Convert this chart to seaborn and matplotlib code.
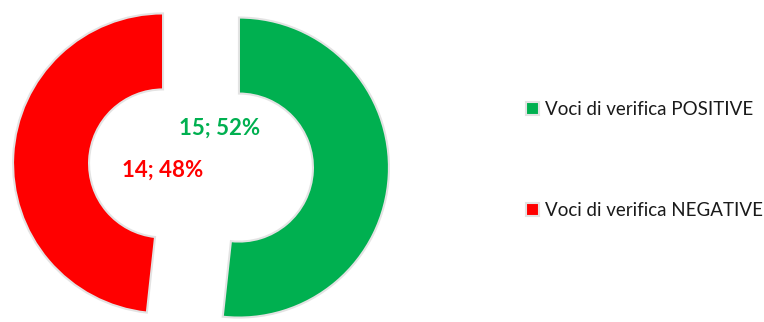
import matplotlib
matplotlib.use("Agg")
import matplotlib.pyplot as plt
import seaborn as sns

# Results of the verification checks
categories = ["Voci di verifica POSITIVE", "Voci di verifica NEGATIVE"]
counts = [15, 14]
colors = ["#00B050", "#FF0000"]

sns.set_theme(style="white")
plt.rcParams["font.family"] = ["Lato", "DejaVu Sans"]

W, H = 764, 322
fig = plt.figure(figsize=(W / 100, H / 100), dpi=100)
ax = fig.add_axes([0, 0, 1, 1])

total = sum(counts)
center = (201, 156.5)
radius = 150
ring = 76
gap = 38  # distance each slice is pulled out from the centre

wedges, _ = ax.pie(
    counts,
    colors=colors,
    startangle=90,
    counterclock=False,
    radius=radius,
    center=center,
    explode=[gap, gap],
    wedgeprops=dict(width=ring, edgecolor="#e3e3e3", linewidth=1.5),
)
ax.set_xlim(0, W)
ax.set_ylim(0, H)
ax.set_aspect("equal")
ax.axis("off")

# value labels: "count; percent"
label_pos = [(219.5, 194), (163, 152)]
for n, col, (x, y) in zip(counts, colors, label_pos):
    ax.text(x, y, f"{n}; {round(100 * n / total)}%", color=col,
            fontsize=16, fontweight="bold", ha="center", va="center")

leg = ax.legend(
    wedges, categories,
    loc="center left", bbox_to_anchor=(526 / W, 1 - 160 / H),
    bbox_transform=fig.transFigure,
    frameon=False, fontsize=13.5,
    handlelength=0.7, handleheight=0.7, handletextpad=0.3,
    labelspacing=4.45, borderpad=0, borderaxespad=0,
)
for t in leg.get_texts():
    t.set_color("#1a1a1a")

fig.savefig("out.png", dpi=100)
